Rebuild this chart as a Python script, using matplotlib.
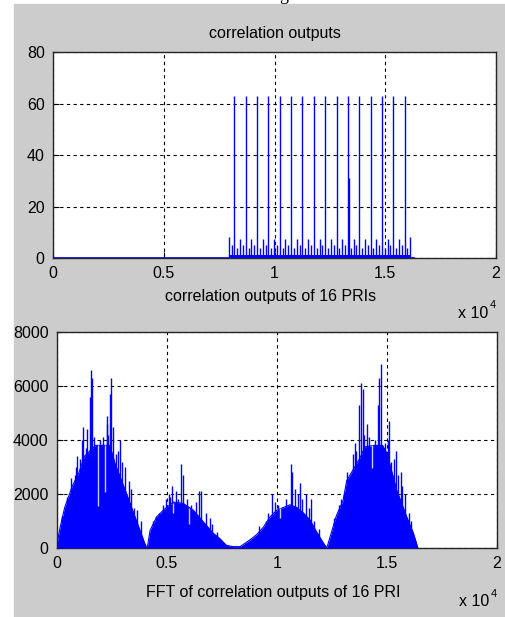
import matplotlib
matplotlib.use('Agg')
import matplotlib.pyplot as plt
from matplotlib.patches import Rectangle

# Дані верхнього графіка (кореляційні виходи)
signal_end = 16300
main_pos = [8192, 8704, 9216, 9728, 10240, 10752, 11264, 11776,
            12288, 12800, 13312, 13824, 14336, 14848, 15360, 15872]
main_h = [63, 63, 63, 63, 63, 63, 63, 63, 63, 63, 63, 63, 63, 63, 63, 63]
side_pos = [13370]
side_h = [31]
mid_pos = [7936, 8448, 8960, 9472, 9984, 10496, 11008, 11520, 12032,
           12544, 13056, 13568, 14080, 14592, 15104, 15616, 16128]
mid_h = [8, 7.5, 7.5, 7.5, 7.5, 7.5, 7.5, 7.5, 7.5, 7.5, 7.5, 7.5, 7.5, 7.5, 7.5, 7.5, 8]
quarter_pos = [8064, 8320, 8576, 8832, 9088, 9344, 9600, 9856, 10112, 10368,
               10624, 10880, 11136, 11392, 11648, 11904, 12160, 12416, 12672,
               12928, 13184, 13440, 13696, 13952, 14208, 14464, 14720, 14976,
               15232, 15488, 15744, 16000]
quarter_h = [5, 4, 5, 4, 5, 4, 5, 4, 5, 4, 5, 4, 5, 4, 5, 4,
             5, 4, 5, 4, 5, 4, 5, 4, 5, 4, 5, 4, 5, 4, 5, 4]
band_x = [7936, 16128]
band_h = [1.3, 1.3]

# Дані нижнього графіка (FFT), обвідна
env_x = [0, 150, 350, 700, 1000, 1250, 1500, 1750, 2000, 2400, 2650, 3100,
         3550, 4000, 4080, 4100, 4230, 4530, 4830, 5290, 5740, 6200, 6650,
         7100, 7400, 7700, 8000, 8320, 8770, 9080, 9380, 9680, 9990, 10290,
         10590, 10900, 11200, 11500, 11800, 12100, 12260, 12300, 12700,
         13000, 13170, 13460, 13750, 14000, 14400, 14800, 15000, 15440,
         15900, 16200, 16350, 16400]
env_y = [150, 800, 1500, 2300, 2800, 3400, 3600, 3800, 3800, 3800, 3100, 2150,
         1150, 150, 0, 0, 650, 1150, 1400, 1700, 1650, 1400, 970,
         550, 350, 100, 50, 50, 300, 500, 770, 1150, 1400, 1500,
         1600, 1500, 1300, 1040, 600, 200, 0, 100, 1200,
         1750, 2500, 2900, 3300, 3750, 3800, 3800, 3500, 2150,
         1150, 550, 150, 0]
# пікові значення
spike_x = [250, 350, 450, 500, 650, 800, 880, 920, 1050, 1120, 1180, 1300, 1380,
           1485, 1560, 1600, 1700, 1950, 2100, 2260, 2290, 2330, 2410,
           2450, 2560, 2700, 2790, 2850, 2950, 3090, 3250, 3380, 3500, 3650, 3800,
           4350, 4500, 4650, 4800, 4950, 5080, 5150, 5230, 5400, 5500, 5650, 5710,
           5900, 6100, 6300, 6440, 6550, 6750, 6940, 7050, 7250,
           9200, 9500, 9600, 9770, 9900, 10050, 10400, 10620, 10700, 10820,
           10950, 11060, 11150, 11330, 11450, 11550, 11700, 11900,
           12600, 12800, 12910, 13030, 13180, 13300, 13440, 13545, 13600, 13740,
           13820, 13890, 13950, 14080, 14200, 14450, 14590, 14650, 14710, 14900,
           15030, 15090, 15200, 15300, 15390, 15500, 15620, 15700, 15820, 16000, 16100]
spike_y = [1200, 1400, 1900, 1800, 2600, 2700, 3000, 3400, 3300, 4000, 4500, 3700, 4400,
           5600, 6600, 6300, 4100, 4000, 4100, 4900, 4600, 4200, 5700,
           6300, 4500, 3500, 3600, 4000, 3200, 3000, 2500, 2200, 1500, 1400, 1000,
           1000, 1200, 1300, 1600, 1800, 2000, 1900, 2300, 2100, 1800, 3100, 2700,
           1800, 1600, 1700, 2100, 2100, 1300, 1100, 900, 600,
           800, 1000, 1300, 2000, 1700, 1600, 1800, 3100, 2800, 2200,
           2000, 2400, 1800, 2000, 1500, 1800, 1000, 700,
           1100, 1600, 1800, 2000, 2800, 2600, 3500, 3900, 3600, 5300,
           6100, 5900, 4200, 4600, 4100, 4000, 5300, 6300, 6800, 3900,
           4000, 4700, 3200, 3300, 3600, 2700, 2800, 2300, 2000, 1300, 1000]
# білі провали
dip_x = [1850, 2180, 5260, 6000, 10150, 14330]
dip_lo = [1550, 2080, 1300, 900, 1100, 2950]
dip_hi = [3800, 3800, 1650, 1500, 1500, 3800]

blue = '#0000ff'
fam = ['Liberation Sans', 'DejaVu Sans']
plt.rcParams['font.family'] = fam

fig = plt.figure(figsize=(5.06, 6.17), dpi=100, facecolor='white')
fig.add_artist(Rectangle((14 / 506, 0), 1 - 14 / 506, 1 - 4 / 617,
                         transform=fig.transFigure, color='#cccccc', zorder=0))
fig.text(0.56, 1.0, 'g', family='Liberation Serif', fontsize=13, va='baseline', ha='center')

def style(ax, ymax, ystep):
    ax.set_facecolor('white')
    ax.set_xlim(0, 20000)
    ax.set_ylim(0, ymax)
    ax.set_xticks([0, 5000, 10000, 15000, 20000])
    ax.set_xticklabels(['0', '0.5', '1', '1.5', '2'])
    ax.set_yticks(range(0, ymax + 1, ystep))
    ax.tick_params(direction='in', length=4, labelsize=11.5, pad=6, color='black')
    ax.grid(True, color='black', linestyle=(0, (3, 3)), linewidth=0.8)
    ax.set_axisbelow(True)
    for s in ax.spines.values():
        s.set_color('#262626')
        s.set_linewidth(1.0)

# Верхній графік
ax1 = fig.add_axes([53 / 506, 1 - 258 / 617, 443 / 506, 206 / 617])
style(ax1, 80, 20)
ax1.plot([0, signal_end], [0, 0], color=blue, linewidth=1.2, zorder=3)
ax1.fill_between(band_x, 0, band_h, color=blue, linewidth=0, zorder=3)
ax1.vlines(quarter_pos, 0, quarter_h, color=blue, linewidth=1.0, zorder=3)
ax1.vlines(mid_pos, 0, mid_h, color=blue, linewidth=1.0, zorder=3)
ax1.vlines(main_pos, 0, main_h, color=blue, linewidth=1.0, zorder=3)
ax1.vlines(side_pos, 0, side_h, color=blue, linewidth=1.0, zorder=3)
ax1.set_title('correlation outputs', fontsize=11.5, pad=10)
fig.text(0.535, 1 - 297 / 617, 'correlation outputs of 16 PRIs', fontsize=11.5,
         ha='center', va='center')
fig.text(0.965, 1 - 313 / 617, 'x 10', fontsize=11.5, ha='right', va='center')
fig.text(0.967, 1 - 305 / 617, '4', fontsize=8, ha='left', va='center')

# Нижній графік
ax2 = fig.add_axes([57 / 506, 1 - 548 / 617, 440 / 506, 216 / 617])
style(ax2, 8000, 2000)
ax2.fill_between(env_x, 0, env_y, color=blue, linewidth=0, zorder=3)
ax2.plot(env_x, env_y, color=blue, linewidth=0.8, zorder=3)
ax2.vlines(spike_x, 0, spike_y, color=blue, linewidth=1.0, zorder=3)
ax2.vlines(dip_x, dip_lo, dip_hi, color='#c8c8ff', linewidth=1.0, zorder=4)
fig.text(0.54, 1 - 592 / 617, 'FFT of correlation outputs of 16 PRI', fontsize=11.5,
         ha='center', va='center')
fig.text(0.967, 1 - 602 / 617, 'x 10', fontsize=11.5, ha='right', va='center')
fig.text(0.969, 1 - 594 / 617, '4', fontsize=8, ha='left', va='center')

fig.savefig('out.png', dpi=100, facecolor=fig.get_facecolor())
